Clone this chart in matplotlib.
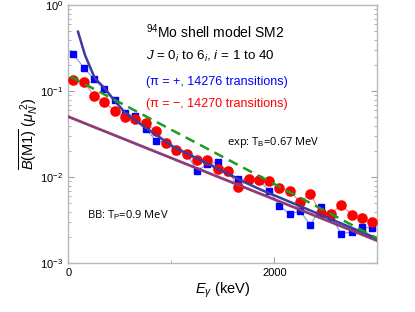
import numpy as np
import matplotlib
matplotlib.use('Agg')
import matplotlib.pyplot as plt
from matplotlib.ticker import FixedLocator, LogLocator, NullFormatter

plt.rcParams['font.family'] = ['Liberation Sans', 'DejaVu Sans']
plt.rcParams['mathtext.fontset'] = 'custom'
plt.rcParams['mathtext.rm'] = 'Liberation Sans'
plt.rcParams['mathtext.it'] = 'Liberation Sans:italic'
plt.rcParams['mathtext.sf'] = 'Liberation Sans'

# bin centres (keV)
e_bins = [50, 150, 250, 350, 450, 550, 650, 750, 850, 950,
          1050, 1150, 1250, 1350, 1450, 1550, 1650, 1750, 1850, 1950,
          2050, 2150, 2250, 2350, 2450, 2550, 2650, 2750, 2850, 2950]

# shell model B(M1), positive parity
bm1_pos = [0.269, 0.188, 0.138, 0.106, 0.0786, 0.0555, 0.0516, 0.0369, 0.0267, 0.0251,
           0.0202, 0.0187, 0.0119, 0.0142, 0.0151, 0.0115, 0.00964, 0.00931, 0.00931, 0.00699,
           0.00468, 0.00374, 0.00406, 0.00279, 0.00448, 0.00345, 0.00222, 0.00231, 0.00261, 0.00259]

# shell model B(M1), negative parity
bm1_neg = [0.135, 0.129, 0.0889, 0.0745, 0.0598, 0.0505, 0.0476, 0.0432, 0.0345, 0.0248,
           0.0208, 0.0187, 0.0159, 0.0161, 0.0125, 0.0118, 0.00765, 0.00968, 0.00923, 0.00918,
           0.00761, 0.00693, 0.00516, 0.00640, 0.00385, 0.00374, 0.00483, 0.00367, 0.00334, 0.00301]

# fit curve through the shell model values
fit_e = [94, 162, 257, 354, 444, 557, 735, 1019, 1344, 1667, 1861, 2995]
fit_val = [0.493, 0.264, 0.142, 0.108, 0.0792, 0.0555, 0.0388, 0.0227, 0.0146, 0.00931, 0.00725, 0.00195]

# exponential from experiment, T_B = 0.67 MeV
exp_e = [23, 3000]
exp_val = [0.148, 0.00195]

# BB line, T_P = 0.9 MeV
bb_e = [0, 3000]
bb_val = [0.0507, 0.00183]

fig = plt.figure(figsize=(4.15, 3.12), dpi=100)
ax = fig.add_axes([0.1646, 0.156, 0.7446, 0.827])

ax.plot(e_bins, bm1_pos, '-', color='#6f86ff', lw=0.7, zorder=2)
ax.plot(e_bins, bm1_pos, 's', color='#0000ff', ms=5, mec='#0000ff', zorder=3)
ax.plot(e_bins, bm1_neg, '-', color='#ff7070', lw=0.7, zorder=2)
ax.plot(e_bins, bm1_neg, 'o', color='#ff0000', ms=6.6, mec='#ff0000', zorder=3)

ax.plot(bb_e, bb_val, '-', color='#8e3c78', lw=2.0, zorder=4)
ax.plot(fit_e, fit_val, '-', color='#3c3c9c', lw=1.8, zorder=5)
ax.plot(exp_e, exp_val, '--', color='#1e9a1e', lw=1.8, dashes=(4, 2.5), zorder=6)

ax.set_yscale('log')
ax.set_xlim(0, 3000)
ax.set_ylim(1e-3, 1)

ax.xaxis.set_major_locator(FixedLocator([0, 2000]))
ax.xaxis.set_minor_locator(FixedLocator([1000, 3000]))
ax.yaxis.set_major_locator(LogLocator(base=10))
ax.yaxis.set_minor_locator(LogLocator(base=10, subs=np.arange(2, 10)))
ax.yaxis.set_minor_formatter(NullFormatter())
ax.tick_params(which='both', direction='in', right=True, top=False,
               color='#a0a0a0', labelsize=8)
ax.tick_params(which='major', length=4, width=0.8)
ax.tick_params(which='minor', length=2.5, width=0.6)
for s in ax.spines.values():
    s.set_color('#b8b8b8')
    s.set_linewidth(1.0)

ax.set_xlabel(r'$E_\gamma$ (keV)', fontsize=10.5, labelpad=2)
ax.set_ylabel(r'$\overline{B\mathrm{(M1)}}$ ($\mu_N^{\ 2}$)', fontsize=10.5, labelpad=0)

ax.text(0.25, 0.873, r'$^{94}$Mo shell model SM2', transform=ax.transAxes, fontsize=10)
ax.text(0.25, 0.79, r'$J$ = 0$_i$ to 6$_i$, $i$ = 1 to 40', transform=ax.transAxes, fontsize=9.6)
ax.text(0.25, 0.69, '(\u03c0 = +, 14276 transitions)', transform=ax.transAxes,
        fontsize=9, color='#0000ff')
ax.text(0.25, 0.605, '(\u03c0 = \u2212, 14270 transitions)', transform=ax.transAxes,
        fontsize=9, color='#ff0000')
ax.text(0.515, 0.458, r'exp: T$_\mathrm{B}$=0.67 MeV', transform=ax.transAxes,
        fontsize=8, family=['Open Sans', 'DejaVu Sans'])
ax.text(0.06, 0.176, r'BB: T$_\mathrm{P}$=0.9 MeV', transform=ax.transAxes,
        fontsize=8, family=['Open Sans', 'DejaVu Sans'])

fig.savefig('out.png', dpi=100)
